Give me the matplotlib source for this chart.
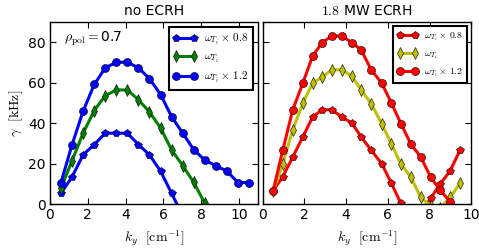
import matplotlib
matplotlib.use("Agg")
import matplotlib.pyplot as plt
import numpy as np

plt.rcParams['mathtext.fontset'] = 'cm'
plt.rcParams['font.family'] = ['DejaVu Sans']

# Left panel: no ECRH
k_left = [0.58, 1.17, 1.75, 2.34, 2.92, 3.51, 4.09, 4.68, 5.26, 5.85, 6.43, 7.02,
          7.60, 8.19, 8.77, 9.36, 9.94, 10.53]
gam_left_08 = [5.3, 13.5, 24.3, 29.4, 35.0, 35.0, 35.0, 29.4, 24.3, 16.2, 5.3, -6.0]
gam_left_10 = [7.8, 21.5, 35.0, 46.2, 53.6, 56.4, 56.4, 51.5, 45.5, 37.6, 26.7, 19.0,
               10.7, 0.3]
gam_left_12 = [10.6, 29.4, 45.9, 59.1, 67.3, 70.1, 70.1, 67.3, 62.0, 54.1, 43.2, 35.0,
               26.9, 21.6, 19.0, 16.2, 10.6, 10.6]

# Right panel: 1.8 MW ECRH
k_right = [0.51, 0.97, 1.45, 1.93, 2.40, 2.85, 3.32, 3.80, 4.28, 4.72, 5.20, 5.70,
           6.17, 6.62, 7.10, 7.57, 8.05, 8.50, 8.98, 9.45]
gam_right_08 = [6.6, 13.5, 23.3, 33.2, 43.0, 46.6, 46.6, 43.0, 40.0, 33.2, 26.6, 20.0,
                10.2, 0.3, -10.0, -4.0, 2.8, 9.9, 16.4, 26.6]
gam_right_10 = [6.6, 20.0, 36.8, 49.9, 59.8, 62.7, 66.4, 66.4, 63.1, 56.5, 49.6, 39.8,
                29.6, 19.8, 13.3, 3.3, -1.0, -2.0, 3.3, 10.2]
gam_right_12 = [6.6, 26.6, 46.6, 59.8, 73.2, 79.8, 83.1, 83.1, 79.8, 76.2, 66.4, 59.8,
                49.9, 39.8, 29.6, 23.3, 13.2, 6.9, 1.1]

labels = [r'$\omega_{T_i}\times\,0.8$', r'$\omega_{T_i}$', r'$\omega_{T_i}\times\,1.2$']
titles = ['no ECRH', r'$1.8$ MW ECRH']
xlabel = r'$k_y\ \ [\mathrm{cm}^{-1}]$'
ylabel = r'$\gamma\ \ [\mathrm{kHz}]$'

W, H = 479, 250
fig = plt.figure(figsize=(W / 100, H / 100), dpi=100)
axL = fig.add_axes([50 / W, 46 / H, 208 / W, 182 / H])
axR = fig.add_axes([262.5 / W, 46 / H, 209 / W, 182 / H])

mk = dict(lw=2.2, markeredgecolor='k', markeredgewidth=0.4, ms=5.8)

axL.plot(k_left[:len(gam_left_08)], gam_left_08, color='b', marker='p', label=labels[0], **mk)
axL.plot(k_left[:len(gam_left_10)], gam_left_10, color='g', marker='d', label=labels[1], **mk)
axL.plot(k_left[:len(gam_left_12)], gam_left_12, color='b', marker='o', label=labels[2], **mk)

axR.plot(k_right[:len(gam_right_08)], gam_right_08, color='r', marker='p', label=labels[0], **mk)
axR.plot(k_right[:len(gam_right_10)], gam_right_10, color='y', marker='d', label=labels[1], **mk)
axR.plot(k_right[:len(gam_right_12)], gam_right_12, color='r', marker='o', label=labels[2], **mk)

axL.set_xlim(0, 11)
axR.set_xlim(0, 10)
for ax, t in zip([axL, axR], titles):
    ax.set_ylim(0, 90)
    ax.set_xticks([0, 2, 4, 6, 8, 10])
    ax.set_yticks([0, 20, 40, 60, 80])
    ax.tick_params(direction='in', top=True, right=True, labelsize=10, length=4, width=0.8, pad=3)
    ax.set_xlabel(xlabel, fontsize=10, labelpad=4)
    ax.set_title(t, fontsize=10, pad=5)
    for s in ax.spines.values():
        s.set_linewidth(1.0)
axR.set_yticklabels([])
axL.set_ylabel(ylabel, fontsize=10, labelpad=2)

axL.text(0.065, 0.91, r'$\rho_\mathrm{pol}=$0.7', transform=axL.transAxes,
         fontsize=10, va='center', ha='left')

legL = axL.legend(loc='upper right', numpoints=2, fontsize=8, fancybox=False,
                  framealpha=1, edgecolor='k', handlelength=2.2, borderaxespad=0.45,
                  borderpad=0.4, labelspacing=0.45, handletextpad=0.6)
legL.get_frame().set_linewidth(1.5)
legR = axR.legend(loc='upper right', numpoints=2, fontsize=7, fancybox=False,
                  framealpha=1, edgecolor='k', handlelength=2.2, borderaxespad=0.45,
                  borderpad=0.4, labelspacing=0.55, handletextpad=0.6)
legR.get_frame().set_linewidth(1.5)

fig.savefig('out.png', dpi=100)
